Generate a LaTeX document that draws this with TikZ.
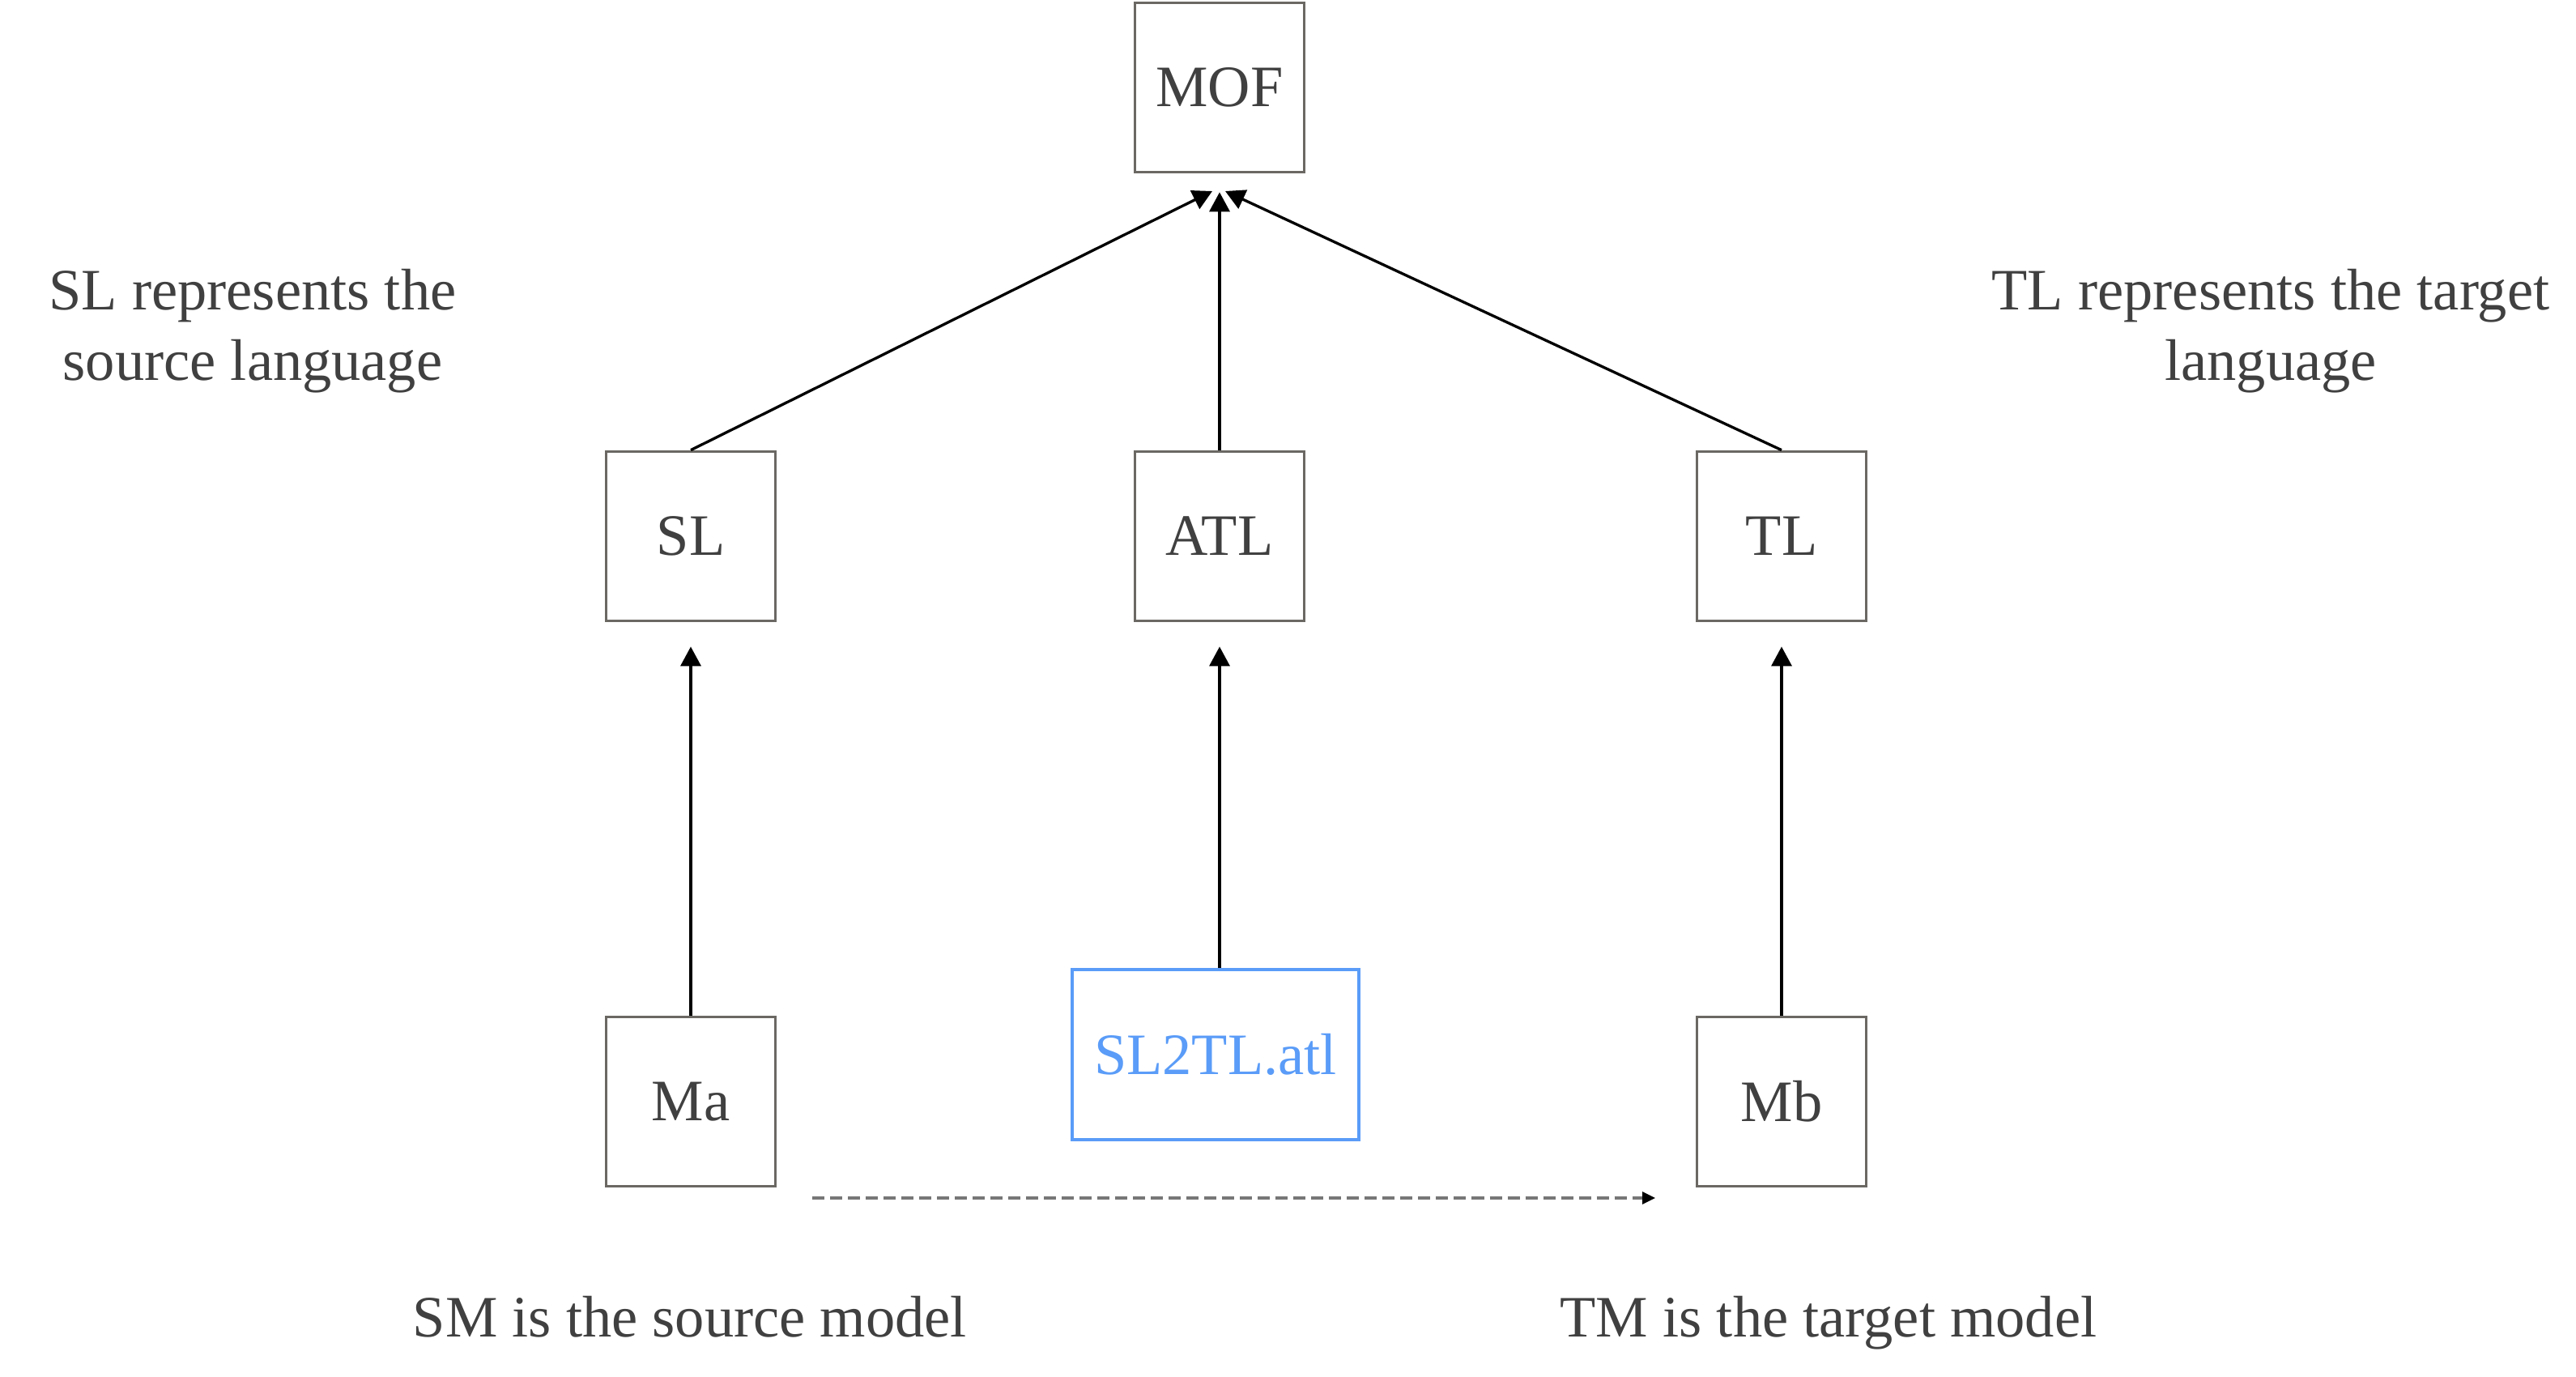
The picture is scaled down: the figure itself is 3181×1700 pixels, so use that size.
\documentclass[tikz,border=0pt]{standalone}
\usepackage{fontspec}
\setmainfont{Liberation Serif}
\usetikzlibrary{arrows.meta}
\definecolor{boxgray}{HTML}{6B6864}
\definecolor{txtgray}{HTML}{404040}
\definecolor{atlblue}{HTML}{5A9CF8}
\definecolor{dashgray}{HTML}{777777}
\begin{document}
\begin{tikzpicture}[x=0.01cm,y=-0.01cm,
  font=\fontsize{20.6pt}{24.8pt}\selectfont,
  mbox/.style={draw=boxgray,line width=1pt,minimum width=2.09cm,minimum height=2.09cm,inner sep=0pt,text=txtgray},
  bluebox/.style={draw=atlblue,line width=1pt,minimum width=3.54cm,minimum height=2.10cm,inner sep=0pt,text=atlblue},
  note/.style={text=txtgray,align=center,inner sep=0pt},
  arr/.style={draw=black,line width=0.95pt,-{Triangle[length=0.24cm,width=0.25cm]}},
  dasharr/.style={draw=dashgray,line width=0.9pt,dash pattern=on 0.15cm off 0.07cm,-{Triangle[length=0.16cm,width=0.15cm,color=black]}}
]
\useasboundingbox (0,0) rectangle (3181,1700);
\fill[white] (0,0) rectangle (3181,1700);

\node[mbox] (MOF) at (1506,108) {MOF};
\node[mbox] (SL) at (853,662) {SL};
\node[mbox] (ATL) at (1506,662) {ATL};
\node[mbox] (TL) at (2200,662) {TL};
\node[mbox] (Ma) at (853,1360) {Ma};
\node[bluebox] (SLTL) at (1501,1302) {SL2TL.atl};
\node[mbox] (Mb) at (2200,1360) {Mb};

\node[note] (nSL) at (312,409) {SL represents the\\source language};
\node[note] (nTL) at (2804,409) {TL represents the target\\language};
\node[note,anchor=base] (nSM) at (852,1650) {SM is the source model};
\node[note,anchor=base] (nTM) at (2258,1650) {TM is the target model};

\coordinate (tipL) at (1497,236);
\coordinate (tipR) at (1513,236);
\coordinate (dS) at (1003,1479);
\coordinate (dE) at (2044,1479);

\draw[arr] (SL.north) -- (tipL);
\draw[arr] (TL.north) -- (tipR);
\draw[arr,shorten >=0.23cm] (ATL.north) -- (MOF.south);

\draw[arr,shorten >=0.30cm] (Ma.north) -- (SL.south);
\draw[arr,shorten >=0.30cm] (SLTL.north -| ATL.south) -- (ATL.south);
\draw[arr,shorten >=0.30cm] (Mb.north) -- (TL.south);

\draw[dasharr] (dS) -- (dE);
\end{tikzpicture}
\end{document}
